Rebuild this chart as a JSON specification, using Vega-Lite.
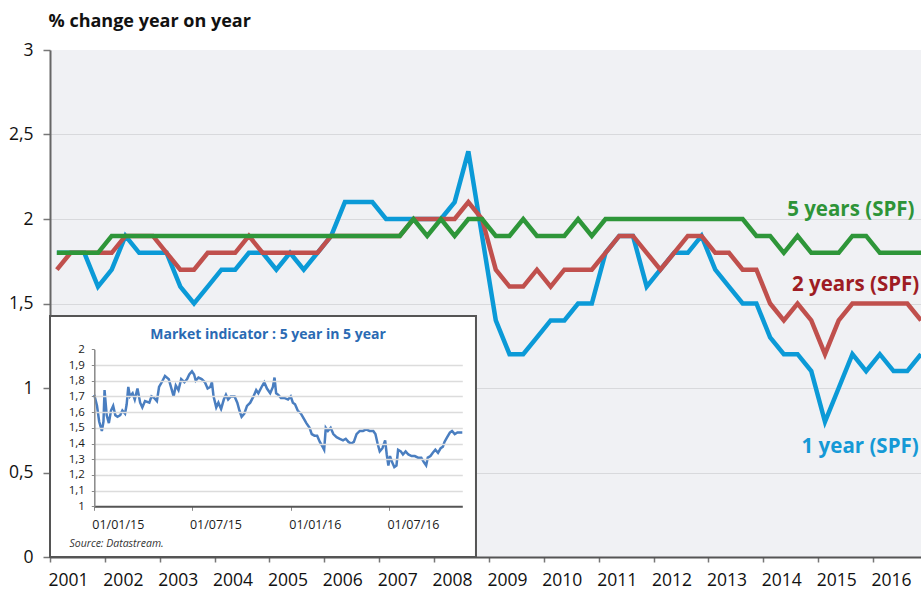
{
  "$schema": "https://vega.github.io/schema/vega-lite/v6.json",
  "width": 871,
  "height": 507,
  "autosize": {"type": "none"},
  "padding": {"left": 50, "top": 50, "right": 0, "bottom": 32},
  "background": "white",
  "config": {"view": {"fill": "#f0f1f4", "stroke": null}, "font": "Open Sans"},
  "datasets": {
    "spf": [
      {"t": 2001.125, "y1": 1.8, "y2": 1.7, "y5": 1.8},
      {"t": 2001.375, "y1": 1.8, "y2": 1.8, "y5": 1.8},
      {"t": 2001.625, "y1": 1.8, "y2": 1.8, "y5": 1.8},
      {"t": 2001.875, "y1": 1.6, "y2": 1.8, "y5": 1.8},
      {"t": 2002.125, "y1": 1.7, "y2": 1.8, "y5": 1.9},
      {"t": 2002.375, "y1": 1.9, "y2": 1.9, "y5": 1.9},
      {"t": 2002.625, "y1": 1.8, "y2": 1.9, "y5": 1.9},
      {"t": 2002.875, "y1": 1.8, "y2": 1.9, "y5": 1.9},
      {"t": 2003.125, "y1": 1.8, "y2": 1.8, "y5": 1.9},
      {"t": 2003.375, "y1": 1.6, "y2": 1.7, "y5": 1.9},
      {"t": 2003.625, "y1": 1.5, "y2": 1.7, "y5": 1.9},
      {"t": 2003.875, "y1": 1.6, "y2": 1.8, "y5": 1.9},
      {"t": 2004.125, "y1": 1.7, "y2": 1.8, "y5": 1.9},
      {"t": 2004.375, "y1": 1.7, "y2": 1.8, "y5": 1.9},
      {"t": 2004.625, "y1": 1.8, "y2": 1.9, "y5": 1.9},
      {"t": 2004.875, "y1": 1.8, "y2": 1.8, "y5": 1.9},
      {"t": 2005.125, "y1": 1.7, "y2": 1.8, "y5": 1.9},
      {"t": 2005.375, "y1": 1.8, "y2": 1.8, "y5": 1.9},
      {"t": 2005.625, "y1": 1.7, "y2": 1.8, "y5": 1.9},
      {"t": 2005.875, "y1": 1.8, "y2": 1.8, "y5": 1.9},
      {"t": 2006.125, "y1": 1.9, "y2": 1.9, "y5": 1.9},
      {"t": 2006.375, "y1": 2.1, "y2": 1.9, "y5": 1.9},
      {"t": 2006.625, "y1": 2.1, "y2": 1.9, "y5": 1.9},
      {"t": 2006.875, "y1": 2.1, "y2": 1.9, "y5": 1.9},
      {"t": 2007.125, "y1": 2.0, "y2": 1.9, "y5": 1.9},
      {"t": 2007.375, "y1": 2.0, "y2": 1.9, "y5": 1.9},
      {"t": 2007.625, "y1": 2.0, "y2": 2.0, "y5": 2.0},
      {"t": 2007.875, "y1": 2.0, "y2": 2.0, "y5": 1.9},
      {"t": 2008.125, "y1": 2.0, "y2": 2.0, "y5": 2.0},
      {"t": 2008.375, "y1": 2.1, "y2": 2.0, "y5": 1.9},
      {"t": 2008.625, "y1": 2.4, "y2": 2.1, "y5": 2.0},
      {"t": 2008.875, "y1": 1.9, "y2": 2.0, "y5": 2.0},
      {"t": 2009.125, "y1": 1.4, "y2": 1.7, "y5": 1.9},
      {"t": 2009.375, "y1": 1.2, "y2": 1.6, "y5": 1.9},
      {"t": 2009.625, "y1": 1.2, "y2": 1.6, "y5": 2.0},
      {"t": 2009.875, "y1": 1.3, "y2": 1.7, "y5": 1.9},
      {"t": 2010.125, "y1": 1.4, "y2": 1.6, "y5": 1.9},
      {"t": 2010.375, "y1": 1.4, "y2": 1.7, "y5": 1.9},
      {"t": 2010.625, "y1": 1.5, "y2": 1.7, "y5": 2.0},
      {"t": 2010.875, "y1": 1.5, "y2": 1.7, "y5": 1.9},
      {"t": 2011.125, "y1": 1.8, "y2": 1.8, "y5": 2.0},
      {"t": 2011.375, "y1": 1.9, "y2": 1.9, "y5": 2.0},
      {"t": 2011.625, "y1": 1.9, "y2": 1.9, "y5": 2.0},
      {"t": 2011.875, "y1": 1.6, "y2": 1.8, "y5": 2.0},
      {"t": 2012.125, "y1": 1.7, "y2": 1.7, "y5": 2.0},
      {"t": 2012.375, "y1": 1.8, "y2": 1.8, "y5": 2.0},
      {"t": 2012.625, "y1": 1.8, "y2": 1.9, "y5": 2.0},
      {"t": 2012.875, "y1": 1.9, "y2": 1.9, "y5": 2.0},
      {"t": 2013.125, "y1": 1.7, "y2": 1.8, "y5": 2.0},
      {"t": 2013.375, "y1": 1.6, "y2": 1.8, "y5": 2.0},
      {"t": 2013.625, "y1": 1.5, "y2": 1.7, "y5": 2.0},
      {"t": 2013.875, "y1": 1.5, "y2": 1.7, "y5": 1.9},
      {"t": 2014.125, "y1": 1.3, "y2": 1.5, "y5": 1.9},
      {"t": 2014.375, "y1": 1.2, "y2": 1.4, "y5": 1.8},
      {"t": 2014.625, "y1": 1.2, "y2": 1.5, "y5": 1.9},
      {"t": 2014.875, "y1": 1.1, "y2": 1.4, "y5": 1.8},
      {"t": 2015.125, "y1": 0.8, "y2": 1.2, "y5": 1.8},
      {"t": 2015.375, "y1": 1.0, "y2": 1.4, "y5": 1.8},
      {"t": 2015.625, "y1": 1.2, "y2": 1.5, "y5": 1.9},
      {"t": 2015.875, "y1": 1.1, "y2": 1.5, "y5": 1.9},
      {"t": 2016.125, "y1": 1.2, "y2": 1.5, "y5": 1.8},
      {"t": 2016.375, "y1": 1.1, "y2": 1.5, "y5": 1.8},
      {"t": 2016.625, "y1": 1.1, "y2": 1.5, "y5": 1.8},
      {"t": 2016.875, "y1": 1.2, "y2": 1.4, "y5": 1.8}
    ],
    "box": [{"x0": 2001, "x1": 2008.764, "b0": 0, "b1": 1.426}],
    "labels": [
      {"label": "5 years (SPF)", "lx": 2015.596, "ly": 2.018},
      {"label": "2 years (SPF)", "lx": 2015.684, "ly": 1.574},
      {"label": "1 year (SPF)", "lx": 2015.766, "ly": 0.617}
    ],
    "mkt": [
      {"d": "2015-01-01", "v": 1.71}, {"d": "2015-01-06", "v": 1.64}, {"d": "2015-01-10", "v": 1.54},
      {"d": "2015-01-15", "v": 1.48}, {"d": "2015-01-18", "v": 1.54}, {"d": "2015-01-20", "v": 1.74},
      {"d": "2015-01-24", "v": 1.58}, {"d": "2015-01-28", "v": 1.53}, {"d": "2015-02-01", "v": 1.61},
      {"d": "2015-02-05", "v": 1.64}, {"d": "2015-02-09", "v": 1.58}, {"d": "2015-02-13", "v": 1.57},
      {"d": "2015-02-18", "v": 1.58}, {"d": "2015-02-22", "v": 1.61}, {"d": "2015-02-27", "v": 1.59},
      {"d": "2015-03-02", "v": 1.65}, {"d": "2015-03-05", "v": 1.76}, {"d": "2015-03-08", "v": 1.70},
      {"d": "2015-03-13", "v": 1.72}, {"d": "2015-03-17", "v": 1.68}, {"d": "2015-03-22", "v": 1.75},
      {"d": "2015-03-27", "v": 1.66}, {"d": "2015-03-31", "v": 1.63}, {"d": "2015-04-05", "v": 1.67},
      {"d": "2015-04-13", "v": 1.66}, {"d": "2015-04-17", "v": 1.70}, {"d": "2015-04-22", "v": 1.69},
      {"d": "2015-04-27", "v": 1.67}, {"d": "2015-05-01", "v": 1.76}, {"d": "2015-05-06", "v": 1.79},
      {"d": "2015-05-12", "v": 1.83}, {"d": "2015-05-19", "v": 1.81}, {"d": "2015-05-24", "v": 1.75},
      {"d": "2015-05-28", "v": 1.70}, {"d": "2015-06-01", "v": 1.77}, {"d": "2015-06-06", "v": 1.74},
      {"d": "2015-06-11", "v": 1.81}, {"d": "2015-06-17", "v": 1.79}, {"d": "2015-06-22", "v": 1.81},
      {"d": "2015-06-26", "v": 1.84}, {"d": "2015-07-01", "v": 1.86}, {"d": "2015-07-05", "v": 1.84},
      {"d": "2015-07-08", "v": 1.80}, {"d": "2015-07-13", "v": 1.82}, {"d": "2015-07-19", "v": 1.81},
      {"d": "2015-07-25", "v": 1.79}, {"d": "2015-07-30", "v": 1.75}, {"d": "2015-08-04", "v": 1.76},
      {"d": "2015-08-07", "v": 1.79}, {"d": "2015-08-10", "v": 1.70}, {"d": "2015-08-15", "v": 1.63},
      {"d": "2015-08-19", "v": 1.66}, {"d": "2015-08-24", "v": 1.62}, {"d": "2015-08-29", "v": 1.68},
      {"d": "2015-09-02", "v": 1.71}, {"d": "2015-09-06", "v": 1.68}, {"d": "2015-09-11", "v": 1.70},
      {"d": "2015-09-18", "v": 1.70}, {"d": "2015-09-23", "v": 1.66}, {"d": "2015-09-27", "v": 1.61},
      {"d": "2015-10-01", "v": 1.57}, {"d": "2015-10-06", "v": 1.59}, {"d": "2015-10-11", "v": 1.64},
      {"d": "2015-10-17", "v": 1.66}, {"d": "2015-10-23", "v": 1.70}, {"d": "2015-10-28", "v": 1.74},
      {"d": "2015-11-01", "v": 1.72}, {"d": "2015-11-07", "v": 1.76}, {"d": "2015-11-12", "v": 1.79},
      {"d": "2015-11-17", "v": 1.75}, {"d": "2015-11-23", "v": 1.72}, {"d": "2015-11-28", "v": 1.76},
      {"d": "2015-12-01", "v": 1.82}, {"d": "2015-12-04", "v": 1.72}, {"d": "2015-12-08", "v": 1.71},
      {"d": "2015-12-13", "v": 1.69}, {"d": "2015-12-19", "v": 1.69}, {"d": "2015-12-26", "v": 1.68},
      {"d": "2015-12-31", "v": 1.70}, {"d": "2016-01-04", "v": 1.66}, {"d": "2016-01-08", "v": 1.65},
      {"d": "2016-01-13", "v": 1.61}, {"d": "2016-01-19", "v": 1.59}, {"d": "2016-01-24", "v": 1.56},
      {"d": "2016-01-29", "v": 1.53}, {"d": "2016-02-04", "v": 1.50}, {"d": "2016-02-08", "v": 1.46},
      {"d": "2016-02-13", "v": 1.45}, {"d": "2016-02-18", "v": 1.45}, {"d": "2016-02-23", "v": 1.41},
      {"d": "2016-02-28", "v": 1.38}, {"d": "2016-03-02", "v": 1.36}, {"d": "2016-03-05", "v": 1.50},
      {"d": "2016-03-09", "v": 1.48}, {"d": "2016-03-14", "v": 1.50}, {"d": "2016-03-19", "v": 1.46},
      {"d": "2016-03-25", "v": 1.44}, {"d": "2016-03-31", "v": 1.43}, {"d": "2016-04-06", "v": 1.42},
      {"d": "2016-04-11", "v": 1.43}, {"d": "2016-04-16", "v": 1.41}, {"d": "2016-04-21", "v": 1.40},
      {"d": "2016-04-26", "v": 1.41}, {"d": "2016-05-01", "v": 1.46}, {"d": "2016-05-07", "v": 1.48},
      {"d": "2016-05-13", "v": 1.48}, {"d": "2016-05-19", "v": 1.49}, {"d": "2016-05-25", "v": 1.48},
      {"d": "2016-06-01", "v": 1.48}, {"d": "2016-06-05", "v": 1.46}, {"d": "2016-06-09", "v": 1.40},
      {"d": "2016-06-13", "v": 1.35}, {"d": "2016-06-18", "v": 1.37}, {"d": "2016-06-23", "v": 1.42},
      {"d": "2016-06-26", "v": 1.33}, {"d": "2016-06-29", "v": 1.26}, {"d": "2016-07-02", "v": 1.32},
      {"d": "2016-07-06", "v": 1.28}, {"d": "2016-07-10", "v": 1.25}, {"d": "2016-07-14", "v": 1.26},
      {"d": "2016-07-17", "v": 1.36}, {"d": "2016-07-22", "v": 1.35}, {"d": "2016-07-26", "v": 1.33},
      {"d": "2016-07-31", "v": 1.35}, {"d": "2016-08-05", "v": 1.33}, {"d": "2016-08-11", "v": 1.32},
      {"d": "2016-08-17", "v": 1.32}, {"d": "2016-08-23", "v": 1.31}, {"d": "2016-08-29", "v": 1.31},
      {"d": "2016-09-03", "v": 1.28}, {"d": "2016-09-07", "v": 1.26}, {"d": "2016-09-10", "v": 1.31},
      {"d": "2016-09-15", "v": 1.32}, {"d": "2016-09-19", "v": 1.34}, {"d": "2016-09-24", "v": 1.36},
      {"d": "2016-09-29", "v": 1.34}, {"d": "2016-10-04", "v": 1.37}, {"d": "2016-10-08", "v": 1.38},
      {"d": "2016-10-11", "v": 1.41}, {"d": "2016-10-16", "v": 1.44}, {"d": "2016-10-21", "v": 1.47},
      {"d": "2016-10-25", "v": 1.48}, {"d": "2016-10-30", "v": 1.46}, {"d": "2016-11-04", "v": 1.47},
      {"d": "2016-11-08", "v": 1.47}, {"d": "2016-11-13", "v": 1.47}
    ],
    "insetText": [
      {"d": "2015-11-19", "v": 2.066, "txt": "Market indicator : 5 year in 5 year", "kind": "title"},
      {"d": "2014-11-16", "v": 0.743, "txt": "Source:  Datastream.", "kind": "source"}
    ]
  },
  "layer": [
    {
      "layer": [
        {
          "data": {"name": "spf"},
          "mark": {"type": "line", "color": "#0b9ad7", "strokeWidth": 4.5},
          "encoding": {
            "x": {
              "field": "t", "type": "quantitative",
              "scale": {"domain": [2001, 2016.875], "nice": false, "zero": false},
              "axis": {
                "values": [2001, 2002, 2003, 2004, 2005, 2006, 2007, 2008, 2009, 2010, 2011, 2012, 2013, 2014, 2015, 2016],
                "format": "d", "labelAlign": "left", "labelOffset": -2, "labelFontSize": 17.5,
                "labelBaseline": "alphabetic", "tickSize": 5, "labelPadding": 23,
                "tickColor": "#777777", "tickWidth": 1.5, "domainColor": "#555555", "domainWidth": 2,
                "grid": false, "title": null, "labelFlush": false, "labelOverlap": false, "labelColor": "#111111"
              }
            },
            "y": {
              "field": "y1", "type": "quantitative", "title": "% change year on year",
              "scale": {"domain": [0, 3], "nice": false, "zero": false},
              "axis": {
                "values": [0, 0.5, 1, 1.5, 2, 2.5, 3],
                "format": "~g",
                "labelExpr": "replace(datum.label, '.', ',')",
                "labelFontSize": 17.5, "labelColor": "#111111", "tickSize": 7, "labelPadding": 10,
                "tickColor": "#777777", "tickWidth": 1.5, "domainColor": "#666666", "domainWidth": 2,
                "grid": true, "gridColor": "#d8d9dc", "gridWidth": 1.2,
                "gridOpacity": {"condition": {"test": "datum.value <= 0 || datum.value >= 3", "value": 0}, "value": 1},
                "labelOverlap": false, "labelFlush": false,
                "titleAngle": 0, "titleX": -2, "titleY": -24, "titleAlign": "left", "titleBaseline": "alphabetic",
                "titleFontSize": 18, "titleFontWeight": "bold", "titleColor": "#111111"
              }
            }
          }
        },
        {
          "data": {"name": "spf"},
          "mark": {"type": "line", "color": "#c0504d", "strokeWidth": 4.5},
          "encoding": {
            "x": {"field": "t", "type": "quantitative"},
            "y": {"field": "y2", "type": "quantitative", "title": "% change year on year"}
          }
        },
        {
          "data": {"name": "spf"},
          "mark": {"type": "line", "color": "#2e9639", "strokeWidth": 4.5},
          "encoding": {
            "x": {"field": "t", "type": "quantitative"},
            "y": {"field": "y5", "type": "quantitative", "title": "% change year on year"}
          }
        },
        {
          "data": {"name": "box"},
          "mark": {"type": "rect", "fill": "white", "stroke": "#555555", "strokeWidth": 2},
          "encoding": {
            "x": {"field": "x0", "type": "quantitative"},
            "x2": {"field": "x1"},
            "y": {"field": "b0", "type": "quantitative", "title": "% change year on year"},
            "y2": {"field": "b1"}
          }
        },
        {
          "data": {"name": "labels"},
          "mark": {"type": "text", "fontWeight": "bold", "fontSize": 20.5, "align": "center", "baseline": "alphabetic"},
          "encoding": {
            "x": {"field": "lx", "type": "quantitative"},
            "y": {"field": "ly", "type": "quantitative", "title": "% change year on year"},
            "text": {"field": "label"},
            "color": {
              "field": "label", "type": "nominal", "legend": null,
              "scale": {"domain": ["5 years (SPF)", "2 years (SPF)", "1 year (SPF)"], "range": ["#2e9438", "#9e1c24", "#1599d6"]}
            }
          }
        }
      ]
    },
    {
      "layer": [
        {
          "data": {"name": "mkt"},
          "mark": {"type": "line", "color": "#4a7ec0", "strokeWidth": 2.5},
          "encoding": {
            "x": {
              "field": "d", "type": "temporal",
              "scale": {
                "type": "utc",
                "domain": [{"year": 2015, "month": 1, "date": 1, "utc": true}, {"year": 2016, "month": 11, "date": 13, "utc": true}],
                "range": [44.3, 412.3]
              },
              "axis": {
                "orient": "bottom", "offset": -50.7,
                "values": [
                  {"year": 2015, "month": 1, "date": 1, "utc": true},
                  {"year": 2015, "month": 7, "date": 1, "utc": true},
                  {"year": 2016, "month": 1, "date": 1, "utc": true},
                  {"year": 2016, "month": 7, "date": 1, "utc": true}
                ],
                "format": "%d/%m/%y", "labelAlign": "left", "labelOffset": -2.5, "labelFontSize": 12.5,
                "labelBaseline": "alphabetic", "labelPadding": 18, "tickSize": 4,
                "tickColor": "#888888", "domainColor": "#555555", "domainWidth": 2,
                "grid": false, "title": null, "zindex": 1, "labelFlush": false, "labelOverlap": false,
                "labelColor": "#1a1a1a"
              }
            },
            "y": {
              "field": "v", "type": "quantitative",
              "scale": {"domain": [1, 2], "range": [456.3, 299.3], "nice": false, "zero": false},
              "axis": {
                "orient": "left", "offset": -44.3,
                "values": [1, 1.1, 1.2, 1.3, 1.4, 1.5, 1.6, 1.7, 1.8, 1.9, 2],
                "format": "~g",
                "labelExpr": "replace(datum.label, '.', ',')",
                "labelFontSize": 11.5, "labelColor": "#1a1a1a", "tickSize": 3, "labelPadding": 7,
                "tickColor": "#888888", "domainColor": "#888888", "domainWidth": 1.5,
                "grid": true, "gridColor": "#dcdcdc", "gridWidth": 1.5,
                "gridOpacity": {"condition": {"test": "datum.value >= 1.95 || datum.value <= 1.05", "value": 0}, "value": 1},
                "title": null, "zindex": 1, "labelOverlap": false, "labelFlush": false
              }
            }
          }
        },
        {
          "data": {"name": "insetText"},
          "transform": [{"filter": "datum.kind == 'title'"}],
          "mark": {"type": "text", "fontWeight": "bold", "fontSize": 14, "align": "center", "baseline": "alphabetic", "color": "#2a6ab3"},
          "encoding": {
            "x": {"field": "d", "type": "temporal"},
            "y": {"field": "v", "type": "quantitative"},
            "text": {"field": "txt"}
          }
        },
        {
          "data": {"name": "insetText"},
          "transform": [{"filter": "datum.kind == 'source'"}],
          "mark": {"type": "text", "fontStyle": "italic", "fontSize": 10.5, "align": "left", "baseline": "alphabetic", "color": "#333333"},
          "encoding": {
            "x": {"field": "d", "type": "temporal"},
            "y": {"field": "v", "type": "quantitative"},
            "text": {"field": "txt"}
          }
        }
      ]
    }
  ],
  "resolve": {"scale": {"x": "independent", "y": "independent"}, "axis": {"x": "independent", "y": "independent"}}
}
